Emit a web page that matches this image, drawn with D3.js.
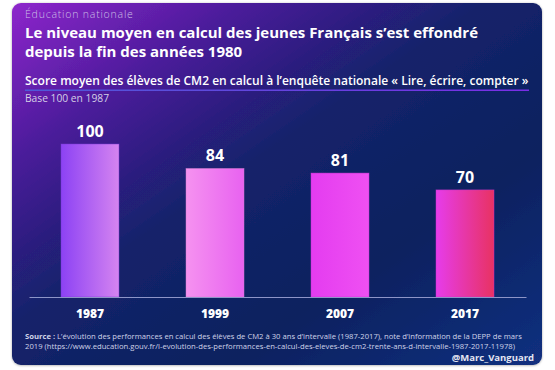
<!DOCTYPE html>
<html>
<head>
<meta charset="utf-8">
<script src="https://cdn.jsdelivr.net/npm/d3@7"></script>
<style>
  body { margin: 0; background: #ffffff; }
  svg { display: block; font-family: "Open Sans", Lato, sans-serif; }
</style>
</head>
<body>
<div id="chart"></div>
<script>
// Data
const years = ["1987", "1999", "2007", "2017"];
const scores = [100, 84, 81, 70];
const barGradients = [
    ["#8c42f4", "#d584f0"],
    ["#f592f0", "#e862f0"],
    ["#e43cf0", "#ef50f2"],
    ["#e63ceb", "#e83262"]
];

const kicker = "Éducation nationale";
const titleLines = [
    "Le niveau moyen en calcul des jeunes Français s’est effondré",
    "depuis la fin des années 1980"
];
const subtitle = "Score moyen des élèves de CM2 en calcul à l’enquête nationale « Lire, écrire, compter »";
const baseNote = "Base 100 en 1987";
const sourceLines = [
    "L’évolution des performances en calcul des élèves de CM2 à 30 ans d’intervalle (1987-2017), note d’information de la DEPP de mars",
    "2019 (https://www.education.gouv.fr/l-evolution-des-performances-en-calcul-des-eleves-de-cm2-trente-ans-d-intervalle-1987-2017-11978)"
];
const signature = "@Marc_Vanguard";

const W = 555, H = 370;
const svg = d3.select("#chart").append("svg")
    .attr("width", W)
    .attr("height", H);

const defs = svg.append("defs");

// Card background
const bg = defs.append("linearGradient")
    .attr("id", "bg")
    .attr("x1", 0).attr("y1", 0).attr("x2", 1).attr("y2", 1);
[[0, "#8e26cc"], [0.22, "#4a1c9a"], [0.45, "#14216a"], [0.7, "#0b215f"], [1, "#12307f"]]
    .forEach(([o, c]) => bg.append("stop").attr("offset", o).attr("stop-color", c));

const shadow = defs.append("filter").attr("id", "shadow")
    .attr("x", "-5%").attr("y", "-5%").attr("width", "110%").attr("height", "110%");
shadow.append("feDropShadow")
    .attr("dx", 0).attr("dy", 0.5).attr("stdDeviation", 1.2)
    .attr("flood-color", "#000").attr("flood-opacity", 0.35);

svg.append("rect")
    .attr("x", 12).attr("y", 3)
    .attr("width", 530).attr("height", 362)
    .attr("rx", 9)
    .attr("fill", "url(#bg)")
    .attr("filter", "url(#shadow)");

// Shrinks or grows a text until it has the wanted width
function fitWidth(sel, target) {
    const node = sel.node();
    const size = parseFloat(sel.style("font-size"));
    const w = node.getComputedTextLength();
    sel.style("font-size", (size * target / w).toFixed(2) + "px");
}

// Header
svg.append("text")
    .attr("x", 25).attr("y", 18)
    .style("font-size", "10.5px")
    .style("font-weight", 300)
    .style("letter-spacing", "0.8px")
    .style("fill", "#cbbfe6")
    .text(kicker);

let titleSize;
titleLines.forEach((line, i) => {
    const t = svg.append("text")
        .attr("x", 25).attr("y", 38 + i * 18.5)
        .style("font-size", "15px")
        .style("font-weight", 700)
        .style("fill", "#ffffff")
        .text(line);
    if (i === 0) {
        t.call(fitWidth, 453);
        titleSize = t.style("font-size");
    } else {
        t.style("font-size", titleSize);
    }
});

svg.append("text")
    .attr("x", 25).attr("y", 85)
    .style("font-size", "12px")
    .style("font-weight", 600)
    .style("fill", "#ffffff")
    .text(subtitle)
    .call(fitWidth, 504);

const underline = defs.append("linearGradient").attr("id", "underline");
underline.append("stop").attr("offset", 0).attr("stop-color", "#4e5ad8");
underline.append("stop").attr("offset", 1).attr("stop-color", "#7a2ee6");
svg.append("rect")
    .attr("x", 25).attr("y", 89.5)
    .attr("width", 504).attr("height", 1.5)
    .attr("fill", "url(#underline)");

svg.append("text")
    .attr("x", 25).attr("y", 102)
    .style("font-size", "9px")
    .style("fill", "#d4d0e6")
    .text(baseNote)
    .call(fitWidth, 84);

// Scales
const x = d3.scaleBand()
    .domain(years)
    .range([29, 526])
    .paddingInner(0.536)
    .paddingOuter(0.256);

const y = d3.scaleLinear()
    .domain([0, 100])
    .range([297, 144]);

// Bar gradients
barGradients.forEach((stops, i) => {
    const g = defs.append("linearGradient").attr("id", "bar" + i);
    g.append("stop").attr("offset", 0).attr("stop-color", stops[0]);
    g.append("stop").attr("offset", 1).attr("stop-color", stops[1]);
});

const data = years.map((yr, i) => ({ year: yr, value: scores[i], i }));

svg.append("g")
    .selectAll("rect")
    .data(data)
    .join("rect")
    .attr("x", d => x(d.year))
    .attr("y", d => y(d.value))
    .attr("width", x.bandwidth())
    .attr("height", d => y(0) - y(d.value))
    .attr("fill", d => `url(#bar${d.i})`)
    .attr("stroke", d => d3.color(barGradients[d.i][0]).darker(0.4))
    .attr("stroke-opacity", 0.6)
    .attr("stroke-width", 0.8);

// Value labels
svg.append("g")
    .selectAll("text")
    .data(data)
    .join("text")
    .attr("x", d => x(d.year) + x.bandwidth() / 2)
    .attr("y", d => y(d.value) - 7)
    .attr("text-anchor", "middle")
    .style("font-size", "16px")
    .style("font-weight", 700)
    .style("fill", "#ffffff")
    .text(d => d.value);

// Axis
const axis = svg.append("g")
    .attr("transform", `translate(0,${y(0)})`)
    .call(d3.axisBottom(x).tickSize(0).tickSizeOuter(0).tickPadding(12.5));
axis.select(".domain")
    .attr("stroke", "#8d95c8")
    .attr("stroke-width", 1.2);
axis.selectAll("text")
    .style("font-family", "\"Open Sans\", sans-serif")
    .style("font-size", "12px")
    .style("font-weight", 800)
    .style("fill", "#ffffff");

// Source
const src = svg.append("text")
    .attr("x", 25).attr("y", 339)
    .style("font-size", "7.5px")
    .style("fill", "#d0d3e8");
src.append("tspan").style("font-weight", 700).text("Source : ");
src.append("tspan").text(sourceLines[0]);
src.call(fitWidth, 498);
const srcSize = src.style("font-size");

svg.append("text")
    .attr("x", 25).attr("y", 349)
    .style("font-size", srcSize)
    .style("fill", "#d0d3e8")
    .text(sourceLines[1]);

svg.append("text")
    .attr("x", 534).attr("y", 361)
    .attr("text-anchor", "end")
    .style("font-size", "9.5px")
    .style("font-weight", 700)
    .style("fill", "#e4e6f2")
    .text(signature);
</script>
</body>
</html>
